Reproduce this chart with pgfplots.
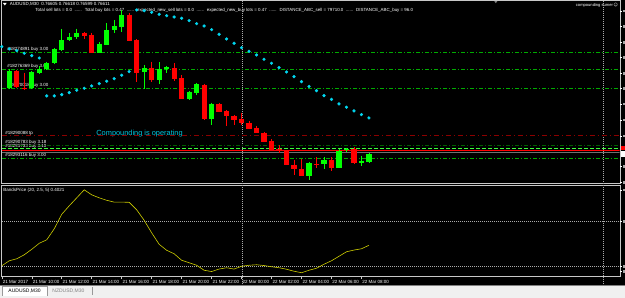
\documentclass[border=0pt]{standalone}
\usepackage{pgfplots}
\pgfplotsset{compat=1.18}
\usepackage{pgfplotstable}
\usepackage{fontspec}
\setmainfont{Liberation Sans}
\newfontfamily\dejavu{DejaVu Sans}

\definecolor{bull}{RGB}{0,255,0}
\definecolor{bear}{RGB}{255,0,0}
\definecolor{sar}{RGB}{0,215,240}
\definecolor{ordgreen}{RGB}{0,170,0}
\definecolor{ordgreendark}{RGB}{0,95,0}
\definecolor{ordbright}{RGB}{60,255,60}
\definecolor{tpred}{RGB}{140,0,0}
\definecolor{indy}{RGB}{205,205,0}
\definecolor{framec}{RGB}{200,200,200}
\definecolor{bidgray}{RGB}{112,112,112}
\definecolor{dotgray}{RGB}{170,170,170}
\definecolor{optext}{RGB}{0,200,225}
\definecolor{tabbg}{RGB}{240,240,240}

\newcommand{\tf}{\fontsize{4.5bp}{5bp}\selectfont}

% bullish candles: x, body top, body bottom, wick top, wick bottom (screen units, y downwards)
\pgfplotstableread{
x bt bb wt wb
9 70.7 88 69.5 89
31.5 72.3 88.3 71.5 89
39 68.7 72.7 65.7 74
46.5 63 69.3 62 70
54 49 63.3 48 64
61.5 40 50 29 51
69 36.7 40.3 33 41
76.5 33 37 28.7 39
99 43.7 52.7 42.3 53
106.5 30 44.7 23.3 45
114 26 30.3 20 33.3
121.5 14.7 26.7 10 32
144 68 72.3 65 89
159 69 80 62.3 84
166.5 67.5 68.7 66 72.7
189 92 99 91 100
196.5 84.3 92.7 83 95
211.5 104 119.3 102.7 125
309 163.3 176 162 180
324 160 164.3 157.3 169.3
339 151 167.7 149.3 168.5
346.5 149.5 150.6 148 152
361.5 160.7 163.3 155.7 166
369 154 162 152.7 163
}\bullt

% bearish candles
\pgfplotstableread{
x bt bb wt wb
16.5 70.7 87.3 70 88
24 88 89.5 72.7 90
84 32.7 35.7 32 39
91.5 34.7 52.7 32.7 53
129 14.7 40.7 13.5 41
136.5 40 72.7 39.5 81.7
151.5 68 80 61.7 81.7
174 68 79 63.3 81
181.5 78.3 99 75 99.5
204 85 119.3 84 120
219 104 111.7 103 112.5
226.5 111 115.7 110.5 126
234 116 120 115 125
241.5 119 123 113.3 125
249 122.7 129 121 129.5
256.5 128 132.7 126 133
264 132.7 141.7 132 142
271.5 141 150.7 139.3 151
279 149 150.2 145 153.3
286.5 151 165.3 150.5 165.5
294 165 169.3 160.5 175
301.5 169 176 159.5 176.5
316.5 164 165.2 157.3 168.3
331.5 160 167.7 157.3 170.7
354 149 163.3 147.5 164
}\beart

% parabolic SAR dots
\pgfplotstableread{
x y
1.5 46.7
9 49
16.5 50.7
24 53.3
31.5 55.7
39 58
46.5 96
54 96
61.5 94.7
69 92.7
76.5 90.3
84 88.3
91.5 86
99 83.7
106.5 81.3
114 78.7
121.5 75.3
129 71.7
136.5 10
144 10.7
151.5 12.3
159 14.3
166.5 15.7
174 17
181.5 18.3
189 20.7
196.5 23.7
204 26
211.5 29.7
219 34.3
226.5 39
234 43.3
241.5 47.7
249 51.3
256.5 55
264 59.3
271.5 63.3
279 67.7
286.5 72
294 76.7
301.5 81.7
309 86.5
316.5 90.7
324 95.7
331.5 99.5
339 104
346.5 107.3
354 111
361.5 114.7
369 118
}\sart

% BandsPrice indicator
\pgfplotstableread{
x y
1.5 266
9 261
16.5 259
24 255
31.5 249.5
39 243.5
46.5 240
54 229
61.5 214.5
69 206
76.5 198
84 190
91.5 195
99 198
106.5 200.5
114 202.3
121.5 202.3
129 202.5
136.5 210
144 220.5
151.5 233
159 244.5
166.5 250.5
174 254
181.5 260.5
189 263
196.5 265.5
204 270.5
211.5 271.8
219 269.3
226.5 268
234 269.3
241.5 266.5
249 265.5
256.5 265
264 265.8
271.5 267
279 268
286.5 269.5
294 271.5
301.5 273
309 270.5
316.5 268.5
324 264.5
331.5 261
339 256.5
346.5 252
354 250.3
361.5 249
369 245.5
}\indt

\begin{document}
\begin{tikzpicture}
% ---------- background, frames and texts (screen units, y downwards) ----------
\begin{scope}[shift={(0bp,298bp)}, x=1bp, y=-1bp]
  \fill[black] (0,0) rectangle (625,298);
  \fill[tabbg] (0,285) rectangle (625,298);
  \draw[gray, line width=0.6bp] (0,285.3) -- (625,285.3);
  % tabs
  \fill[white] (1.5,286.5) rectangle (46.5,296);
  \draw[gray!80, line width=0.4bp] (1.5,296) -- (1.5,286.5) -- (46.5,286.5) -- (46.5,296);
  \node[anchor=west, inner sep=0pt, text=black, font=\fontsize{5bp}{6bp}\selectfont] at (8,291.5) {AUDUSD,M30};
  \node[anchor=west, inner sep=0pt, text=gray, font=\fontsize{5bp}{6bp}\selectfont] at (52,291.5) {NZDUSD,M30};
  \draw[gray!80, line width=0.4bp] (92,287.5) -- (92,295);
  % header
  \fill[white] (2.6,3) -- (6.4,3) -- (4.5,5.4) -- cycle;
  \node[anchor=west, inner sep=0pt, text=white, font=\tf] at (9.5,4.5) {AUDUSD,M30\ \ 0.76605 0.76618 0.76599 0.76611};
  \node[anchor=west, inner sep=0pt, text=white, font=\tf] at (35,10.7)
    {\resizebox{378bp}{!}{Total sell lots = 0.0 \ ...... \ Total buy lots = 0.47 \ ...... \ expected\_new\_sell lots = 0.0 \ ...... \ expected\_new\_buy lots = 0.47 \ ...... \ DISTANCE\_ABC\_sell = 79710.0 \ ...... \ DISTANCE\_ABC\_buy = 96.0}};
  \node[anchor=west, inner sep=0pt, text=white, font=\tf] at (576,5.3) {\resizebox{42bp}{!}{compounding sumer\,{\dejavu ☺}}};
  \fill[gray] (494.5,1.2) -- (497.5,1.2) -- (496,3.2) -- cycle;
  % order labels
  \node[anchor=west, inner sep=0pt, text=white, font=\tf] at (7,49.3) {\#18274891 buy 3.00};
  \node[anchor=west, inner sep=0pt, text=white, font=\tf] at (7,66.4) {\#18276369 buy 3.00};
  \node[anchor=west, inner sep=0pt, text=white, font=\tf] at (7,85.5) {\#18270018 buy 3.00};
  \node[anchor=west, inner sep=0pt, text=white, font=\tf] at (5,133.5) {\#18290088 tp};
  \node[anchor=west, inner sep=0pt, text=white, font=\tf] at (5,142.8) {\#18290783 buy 3.18};
  \node[anchor=west, inner sep=0pt, text=white, font=\tf] at (5,146) {\#18291783 buy 3.10};
  \node[anchor=west, inner sep=0pt, text=white, font=\tf] at (5,155.5) {\#18293116 buy 3.00};
  \node[anchor=west, inner sep=0pt, text=optext, font=\fontsize{7.4bp}{8bp}\selectfont] at (96,133.3) {Compounding is operating};
  \node[anchor=west, inner sep=0pt, text=white, font=\tf] at (3,190.3) {BandsPrice (20, 2.5, 5) 0.4021};
  % panel frames
  \draw[framec, line width=0.7bp] (1.2,0.8) -- (620.3,0.8) -- (620.3,184) -- (1.2,184) -- cycle;
  \draw[framec, line width=0.7bp] (1.2,186) -- (620.3,186) -- (620.3,277) -- (1.2,277) -- cycle;
  % period separators
  \draw[dotgray, line width=0.6bp, dash pattern=on 1bp off 1bp] (242,1) -- (242,285);
  \draw[dotgray, line width=0.6bp, dash pattern=on 1bp off 1bp] (604,1) -- (604,285);
  % right price scale marks
  \foreach \yy in {11,26.7,42.3,57.3,73.3,88.7,104.3,120,136,166.7,182.7,190,221.7,266.7,272}
    {\draw[white, line width=0.5bp] (620.3,\yy) -- (622,\yy);
     \fill[gray!70] (623.3,\yy-1.3) rectangle (625,\yy+1.3);}
  \fill[bear] (621,146.5) rectangle (625,150);
  \fill[white] (621,151) rectangle (625,157);
\end{scope}

% ---------- main price panel ----------
\begin{axis}[at={(1bp,114bp)}, anchor=south west, scale only axis,
  width=619bp, height=182bp, xmin=1, xmax=620, ymin=2, ymax=184,
  y dir=reverse, hide axis]
  % order levels
  \addplot[ordgreen, line width=0.7bp, dash pattern=on 4bp off 2bp on 1bp off 2bp] coordinates {(2,52) (620,52)};
  \addplot[ordgreen, line width=0.7bp, dash pattern=on 4bp off 2bp on 1bp off 2bp] coordinates {(2,69) (620,69)};
  \addplot[ordgreen, line width=0.7bp, dash pattern=on 4bp off 2bp on 1bp off 2bp] coordinates {(2,88) (620,88)};
  \addplot[tpred, line width=0.8bp, dash pattern=on 5bp off 3bp on 1bp off 3bp] coordinates {(2,136) (620,136)};
  \addplot[ordgreendark, line width=0.8bp, dash pattern=on 4bp off 2bp on 1bp off 2bp] coordinates {(2,145.5) (620,145.5)};
  \addplot[ordbright, line width=0.8bp, dash pattern=on 4bp off 2bp] coordinates {(2,148.3) (620,148.3)};
  \addplot[bear, line width=0.8bp] coordinates {(2,150.2) (620,150.2)};
  \addplot[bidgray, line width=1.2bp] coordinates {(2,153) (620,153)};
  \addplot[ordgreen, line width=0.7bp, dash pattern=on 4bp off 2bp on 1bp off 2bp] coordinates {(2,158.3) (620,158.3)};
  % candles
  \addplot[bull, line width=0.8bp, quiver={u=0, v=\thisrow{wb}-\thisrow{wt}}] table[x=x, y=wt] {\bullt};
  \addplot[bull, line width=5.2bp, quiver={u=0, v=\thisrow{bb}-\thisrow{bt}}] table[x=x, y=bt] {\bullt};
  \addplot[bear, line width=0.8bp, quiver={u=0, v=\thisrow{wb}-\thisrow{wt}}] table[x=x, y=wt] {\beart};
  \addplot[bear, line width=5.2bp, quiver={u=0, v=\thisrow{bb}-\thisrow{bt}}] table[x=x, y=bt] {\beart};
  % parabolic SAR
  \addplot[only marks, mark=*, mark size=1.4bp, color=sar] table[x=x, y=y] {\sart};
\end{axis}

% ---------- indicator panel ----------
\begin{axis}[at={(1bp,21bp)}, anchor=south west, scale only axis,
  width=619bp, height=91bp, xmin=1, xmax=620, ymin=186, ymax=277,
  y dir=reverse, axis line style={draw=none}, ytick=\empty,
  xtick={1.5,31.5,61.5,91.5,121.5,151.5,181.5,211.5,241.5,271.5,301.5,331.5,361.5},
  xticklabels={21 Mar 2017,21 Mar 10:00,21 Mar 12:00,21 Mar 14:00,21 Mar 16:00,21 Mar 18:00,21 Mar 20:00,21 Mar 22:00,22 Mar 00:00,22 Mar 02:00,22 Mar 04:00,22 Mar 06:00,22 Mar 08:00},
  xtick pos=left, tick align=outside, major tick length=2.5bp,
  tick style={framec, line width=0.5bp},
  xticklabel style={font=\tf, text=white, anchor=north west, inner sep=0pt, xshift=0.8bp, yshift=-1.2bp}]
  \addplot[dotgray, line width=0.6bp, dash pattern=on 1bp off 1bp] coordinates {(2,221.7) (620,221.7)};
  \addplot[dotgray, line width=0.6bp, dash pattern=on 1bp off 1bp] coordinates {(2,266.3) (620,266.3)};
  \addplot[indy, line width=0.6bp] table[x=x, y=y] {\indt};
\end{axis}
\end{tikzpicture}
\end{document}
